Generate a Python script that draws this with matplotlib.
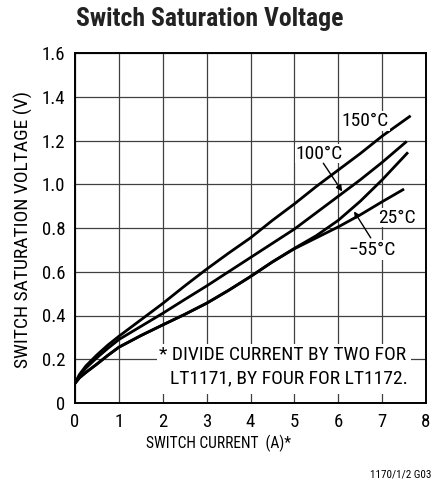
import matplotlib
matplotlib.use("Agg")
import matplotlib.pyplot as plt
from matplotlib.patches import Rectangle

plt.rcParams['font.family'] = ['Roboto Condensed', 'DejaVu Sans']

# curves (switch current A, saturation voltage V)
x_150 = [0, 0.1, 0.25, 0.5, 0.75, 1, 1.5, 2, 2.5, 3, 3.5, 4, 4.5, 5, 5.5, 6, 6.5, 7, 7.65]
v_150 = [0.09, 0.13, 0.17, 0.22, 0.265, 0.305, 0.38, 0.455, 0.535, 0.612, 0.685, 0.755, 0.835, 0.91, 0.99, 1.065, 1.14, 1.22, 1.313]

x_100 = [0, 0.1, 0.25, 0.5, 0.75, 1, 1.5, 2, 2.5, 3, 3.5, 4, 4.5, 5, 5.5, 6, 6.5, 7, 7.56]
v_100 = [0.09, 0.125, 0.16, 0.207, 0.25, 0.29, 0.35, 0.41, 0.473, 0.535, 0.60, 0.665, 0.73, 0.795, 0.87, 0.945, 1.02, 1.10, 1.196]

x_25 = [0, 0.1, 0.25, 0.5, 0.75, 1, 1.5, 2, 2.5, 3, 3.5, 4, 4.5, 5, 5.5, 6, 6.5, 7, 7.5]
v_25 = [0.09, 0.115, 0.14, 0.178, 0.218, 0.255, 0.308, 0.357, 0.405, 0.456, 0.515, 0.578, 0.645, 0.705, 0.755, 0.805, 0.86, 0.92, 0.978]

x_m55 = [0, 0.1, 0.25, 0.5, 0.75, 1, 1.5, 2, 2.5, 3, 3.5, 4, 4.5, 5, 5.5, 6, 6.5, 7, 7.59]
v_m55 = [0.09, 0.115, 0.14, 0.178, 0.218, 0.255, 0.308, 0.357, 0.405, 0.456, 0.515, 0.578, 0.645, 0.707, 0.765, 0.835, 0.922, 1.02, 1.146]

xticks = [0, 1, 2, 3, 4, 5, 6, 7, 8]
yticks = [0, 0.2, 0.4, 0.6, 0.8, 1.0, 1.2, 1.4, 1.6]
ytick_labels = ['0', '0.2', '0.4', '0.6', '0.8', '1.0', '1.2', '1.4', '1.6']

W, H = 434, 479
fig = plt.figure(figsize=(W / 100, H / 100), dpi=100)
ax = fig.add_axes([75 / W, 1 - 403 / H, 351 / W, 350 / H])

ax.set_xlim(0, 8)
ax.set_ylim(0, 1.6)
ax.set_xticks(xticks)
ax.set_yticks(yticks)
ax.set_yticklabels(ytick_labels)
ax.tick_params(length=0, labelsize=13.5, pad=7)
ax.grid(True, color='0.25', lw=0.9, zorder=1)
for s in ax.spines.values():
    s.set_linewidth(1.4)
    s.set_zorder(5)

for xs, vs in [(x_150, v_150), (x_100, v_100), (x_25, v_25), (x_m55, v_m55)]:
    ax.plot(xs, vs, color='black', lw=2.0, solid_capstyle='butt', zorder=3)

# footnote box hides the grid behind it
ax.add_patch(Rectangle((1.86, 0.04), 5.79, 0.23, facecolor='white', edgecolor='none', zorder=2))
ax.text(7.54, 0.22, '* DIVIDE CURRENT BY TWO FOR', ha='right', va='center', fontsize=14, zorder=4)
ax.text(7.58, 0.113, 'LT1171, BY FOUR FOR LT1172.', ha='right', va='center', fontsize=14, zorder=4)

box = dict(facecolor='white', edgecolor='none', pad=0.5)
ax.text(6.62, 1.29, '150°C', ha='center', va='center', fontsize=14, bbox=box, zorder=4)
ax.text(5.57, 1.14, '100°C', ha='center', va='center', fontsize=14, bbox=box, zorder=4)
ax.text(7.34, 0.847, '25°C', ha='center', va='center', fontsize=14, bbox=box, zorder=4)
ax.text(6.77, 0.70, '\u221255°C', ha='center', va='center', fontsize=14, bbox=box, zorder=4)

arrow = dict(arrowstyle='-|>', color='black', lw=1.0, mutation_scale=9, shrinkA=0, shrinkB=0)
ax.annotate('', xy=(6.09, 0.967), xytext=(5.66, 1.096), arrowprops=arrow, zorder=4)
ax.annotate('', xy=(6.36, 0.876), xytext=(6.74, 0.755), arrowprops=arrow, zorder=4)

fig.text(210 / W, 1 - 19 / H, 'Switch Saturation Voltage', ha='center', va='center',
         fontsize=18.5, fontweight='bold', color='#222222')
fig.text(23 / W, 1 - 230 / H, 'SWITCH SATURATION VOLTAGE (V)', rotation=90,
         ha='center', va='center', fontsize=14)
fig.text(218 / W, 1 - 443 / H, 'SWITCH CURRENT  (A)*', ha='center', va='center', fontsize=11.2)
fig.text(432 / W, 1 - 474 / H, '1170/1/2 G03', ha='right', va='center', fontsize=8)

fig.savefig('out.png', dpi=100)
